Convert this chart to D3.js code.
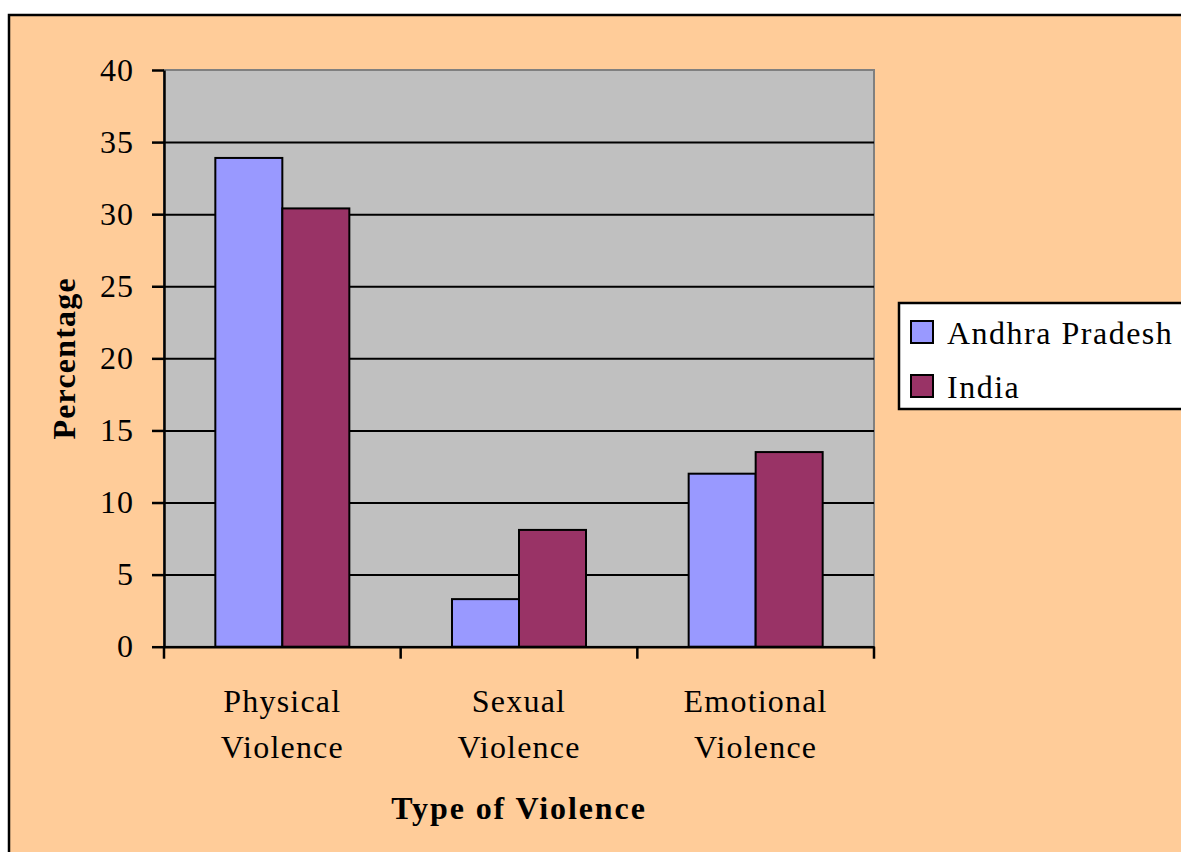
<!DOCTYPE html>
<html>
<head>
<meta charset="utf-8">
<script src="https://cdn.jsdelivr.net/npm/d3@7"></script>
<style>
  body { margin: 0; background: #fff; }
  svg { display: block; font-family: "Liberation Serif", "Times New Roman", serif; }
</style>
</head>
<body>
<svg id="chart" width="1181" height="852"></svg>
<script>
const categories = ["Physical Violence", "Sexual Violence", "Emotional Violence"]
const seriesNames = ["Andhra Pradesh", "India"]
const andhraPradesh = [33.9, 3.3, 12.0]
const india = [30.4, 8.1, 13.5]
const yTicks = [0, 5, 10, 15, 20, 25, 30, 35, 40]

const colors = { "Andhra Pradesh": "#9999FF", "India": "#993366" }

const svg = d3.select('#chart')
const plotLeft = 164, plotRight = 874, plotTop = 70, plotBottom = 646.7
const plotW = plotRight - plotLeft, plotH = plotBottom - plotTop

// outer chart frame (runs off the picture on the right and bottom)
svg.append('rect')
    .attr('x', 9).attr('y', 15)
    .attr('width', 1250).attr('height', 900)
    .attr('fill', '#FFCC99')
    .attr('stroke', '#000').attr('stroke-width', 2.5)

const yScale = d3.scaleLinear().domain([0, 40]).range([plotBottom, plotTop])
const x0 = d3.scaleBand().domain(categories).range([plotLeft, plotRight]).paddingInner(0).paddingOuter(0)
const gap = (x0.step() - 134) / 2
const x1 = d3.scaleBand().domain(seriesNames).range([gap, x0.step() - gap])

// plot area
svg.append('rect')
    .attr('x', plotLeft).attr('y', plotTop)
    .attr('width', plotW).attr('height', plotH)
    .attr('fill', '#C0C0C0')
    .attr('stroke', '#808080').attr('stroke-width', 2)

// gridlines
const grid = svg.append('g')
    .attr('transform', 'translate(' + plotLeft + ',0)')
    .call(d3.axisLeft(yScale).tickValues(yTicks.filter(t => t > 0 && t < 40)).tickSize(-plotW).tickFormat(''))
grid.select('.domain').remove()
grid.selectAll('line').attr('stroke', '#000').attr('stroke-width', 2)

// bars
const rows = categories.map((c, i) => ({ cat: c, values: [andhraPradesh[i], india[i]] }))
svg.append('g')
    .selectAll('g')
    .data(rows)
    .enter()
    .append('g')
    .attr('transform', d => 'translate(' + x0(d.cat) + ',0)')
    .selectAll('rect')
    .data(d => d.values.map((v, j) => ({ name: seriesNames[j], value: v })))
    .enter()
    .append('rect')
    .attr('x', d => x1(d.name))
    .attr('width', x1.bandwidth())
    .attr('y', d => yScale(d.value))
    .attr('height', d => plotBottom - yScale(d.value))
    .attr('fill', d => colors[d.name])
    .attr('stroke', '#000').attr('stroke-width', 2)

// y axis
const yAxis = svg.append('g')
    .attr('transform', 'translate(' + plotLeft + ',0)')
    .call(d3.axisLeft(yScale).tickValues(yTicks).tickSize(12).tickPadding(18).tickSizeOuter(0))
yAxis.select('.domain').attr('stroke', '#000').attr('stroke-width', 2.5)
yAxis.selectAll('line').attr('stroke', '#000').attr('stroke-width', 2.5)
yAxis.selectAll('text')
    .attr('font-size', 32).attr('fill', '#000')
    .attr('font-family', '"Liberation Serif", serif')
    .attr('letter-spacing', 1)

// x axis
const xAxis = svg.append('g')
    .attr('transform', 'translate(0,' + plotBottom + ')')
    .call(d3.axisBottom(x0).tickSize(0).tickFormat(''))
xAxis.select('.domain').attr('stroke', '#000').attr('stroke-width', 2.5)
xAxis.selectAll('.tick').remove()

const boundaries = categories.map(c => x0(c)).concat([plotRight])
svg.append('g')
    .selectAll('line')
    .data(boundaries)
    .enter()
    .append('line')
    .attr('x1', d => d).attr('x2', d => d)
    .attr('y1', plotBottom).attr('y2', plotBottom + 12)
    .attr('stroke', '#000').attr('stroke-width', 2.5)

const catLabels = svg.append('g')
    .selectAll('text')
    .data(categories)
    .enter()
    .append('text')
    .attr('x', d => x0(d) + x0.bandwidth() / 2)
    .attr('y', 712)
    .attr('text-anchor', 'middle')
    .attr('font-size', 32)
    .attr('letter-spacing', 1.2)
catLabels.selectAll('tspan')
    .data(d => d.split(' ').map(w => ({ w: w, x: x0(d) + x0.bandwidth() / 2 })))
    .enter()
    .append('tspan')
    .attr('x', d => d.x)
    .attr('dy', (d, i) => i === 0 ? 0 : 46)
    .text(d => d.w)

// axis titles
svg.append('text')
    .attr('x', (plotLeft + plotRight) / 2).attr('y', 819)
    .attr('text-anchor', 'middle')
    .attr('font-size', 32).attr('font-weight', 'bold')
    .attr('letter-spacing', 1.9)
    .text('Type of Violence')

svg.append('text')
    .attr('transform', 'translate(75,' + ((plotTop + plotBottom) / 2) + ') rotate(-90)')
    .attr('text-anchor', 'middle')
    .attr('font-size', 32).attr('font-weight', 'bold')
    .attr('letter-spacing', 1.2)
    .text('Percentage')

// legend
const legend = svg.append('g').attr('transform', 'translate(899,303)')
legend.append('rect')
    .attr('width', 320).attr('height', 106)
    .attr('fill', '#fff').attr('stroke', '#000').attr('stroke-width', 2.5)
const items = legend.selectAll('g.item')
    .data(seriesNames)
    .enter()
    .append('g')
    .attr('class', 'item')
    .attr('transform', (d, i) => 'translate(12,' + (18 + i * 54) + ')')
items.append('rect')
    .attr('width', 22).attr('height', 22)
    .attr('fill', d => colors[d])
    .attr('stroke', '#000').attr('stroke-width', 2)
items.append('text')
    .attr('x', 36).attr('y', 23)
    .attr('font-size', 32)
    .attr('letter-spacing', 1.5)
    .text(d => d)
</script>
</body>
</html>
